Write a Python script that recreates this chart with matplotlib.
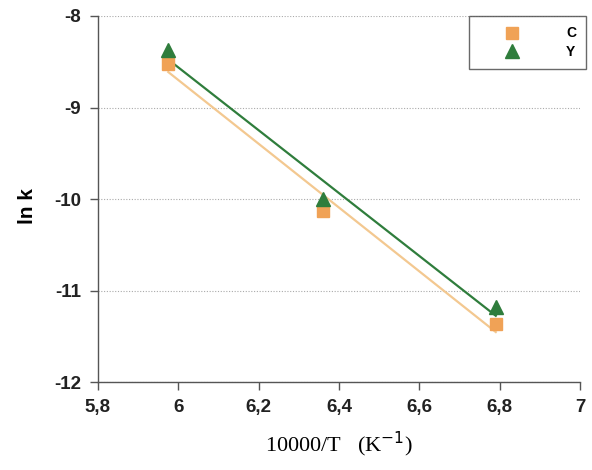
import numpy as np
import matplotlib
matplotlib.use("Agg")
import matplotlib.pyplot as plt

plt.rcParams["axes.unicode_minus"] = False

x_vals = [5.975, 6.36, 6.79]
c_vals = [-8.52, -10.13, -11.37]
y_vals = [-8.37, -10.0, -11.18]
xticks = [5.8, 6.0, 6.2, 6.4, 6.6, 6.8, 7.0]
xtick_labels = ["5,8", "6", "6,2", "6,4", "6,6", "6,8", "7"]
yticks = [-8, -9, -10, -11, -12]

fig = plt.figure(figsize=(5.92, 4.70), dpi=100)
ax = fig.add_axes([0.1655, 0.187, 0.8145, 0.779])

x = np.array(x_vals)
pc = np.polyfit(x, c_vals, 1)
py = np.polyfit(x, y_vals, 1)
xl = np.array([x.min(), x.max()])
ax.plot(xl, np.polyval(pc, xl), color="#f3c890", lw=1.6, zorder=2)
ax.plot(xl, np.polyval(py, xl), color="#2f7d3c", lw=1.6, zorder=3)

ax.plot(x, c_vals, linestyle="none", marker="s", ms=9, color="#f0a256", label="C", zorder=4)
ax.plot(x, y_vals, linestyle="none", marker="^", ms=10, color="#2f7d3c", label="Y", zorder=5)

ax.set_xlim(5.8, 7.0)
ax.set_ylim(-12, -8)
ax.set_xticks(xticks)
ax.set_xticklabels(xtick_labels)
ax.set_yticks(yticks)
ax.set_yticklabels([str(v) for v in yticks])
for t in ax.get_xticklabels() + ax.get_yticklabels():
    t.set_fontfamily("Liberation Sans")
    t.set_fontweight("bold")
    t.set_fontsize(13.5)
    t.set_color("#222222")

ax.yaxis.grid(True, linestyle=(0, (1, 1.5)), color="#aaaaaa", lw=0.8)
ax.set_axisbelow(True)
for s in ["top", "right"]:
    ax.spines[s].set_visible(False)
for s in ["left", "bottom"]:
    ax.spines[s].set_color("#555555")
    ax.spines[s].set_linewidth(1.0)
ax.tick_params(direction="out", length=6, color="#555555", width=1.0, pad=6)

ax.set_ylabel("ln k", fontfamily="Liberation Sans", fontweight="bold", fontsize=15)
ax.yaxis.set_label_coords(-0.127, 0.48)
ax.set_xlabel("10000/T   (K$^{-1}$)", fontfamily="Liberation Serif", fontsize=16, labelpad=10)

leg = ax.legend(loc="upper right", bbox_to_anchor=(1.013, 1.0), frameon=True, fancybox=False,
                edgecolor="#444444", prop={"family": "Liberation Sans", "weight": "bold", "size": 10},
                markerfirst=True, handletextpad=1.6, borderpad=0.75, labelspacing=0.3,
                handlelength=4.6, borderaxespad=0.0)
leg.get_frame().set_linewidth(1.0)

fig.savefig("out.png", dpi=100)
